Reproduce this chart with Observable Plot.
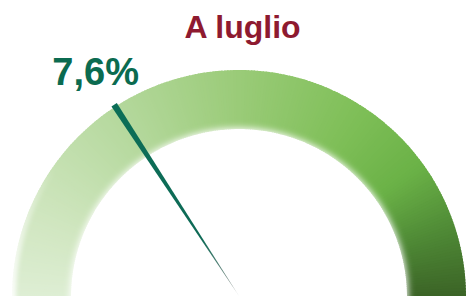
<!DOCTYPE html>
<html>
<head>
<meta charset="utf-8">
<script src="https://cdn.jsdelivr.net/npm/d3@7"></script>
<script src="https://cdn.jsdelivr.net/npm/@observablehq/plot@0.6"></script>
<style>
  html, body { margin: 0; padding: 0; background: #fff; overflow: hidden; }
  svg { font-family: "Liberation Sans", Arial, sans-serif; }
</style>
</head>
<body>
<div id="chart"></div>
<script>
// ---- data ----
const titles = ["A luglio"];
const values = [7.6];
const valueLabels = ["7,6%"];
const gaugeDomain = [0, 24];          // gauge range (min, max)
const bandRadii = [0.74, 1];          // inner / outer radius, in units of the outer radius

// ---- styles ----
const stopT = [0, 0.12, 0.32, 0.5, 0.68, 0.8, 0.9, 1];
const stopColors = ["#deeed4", "#d0e6c0", "#b4d89c", "#9acb78", "#7fbf58", "#6bb247", "#4f8a36", "#3b6326"];
const bandColor = d3.scaleLinear(stopT, stopColors).interpolate(d3.interpolateRgb);

const frac = d3.scaleLinear(gaugeDomain, [0, 1]).clamp(true);
const theta = v => Math.PI * (1 - frac(v));   // math angle: 0 = right, PI = left
const needleR = 1.01;

function gauge(index, scales) {
  const {x, y} = scales;
  const cx = x(0), cy = y(0), R = x(1) - x(0);
  const g = d3.create("svg:g");
  const defs = g.append("defs");
  defs.append("filter").attr("id", "soft")
    .attr("x", "-30%").attr("y", "-30%").attr("width", "160%").attr("height", "160%")
    .append("feGaussianBlur").attr("stdDeviation", 3.8);
  defs.append("filter").attr("id", "soft2")
    .attr("x", "-50%").attr("y", "-50%").attr("width", "200%").attr("height", "200%")
    .append("feGaussianBlur").attr("stdDeviation", 2);

  // band as many thin segments (angular gradient)
  const N = 240;
  const arc = d3.arc().innerRadius(bandRadii[0] * R).outerRadius(bandRadii[1] * R);
  const root = g.append("g").attr("transform", `translate(${cx},${cy})`);
  const band = root.append("g");
  for (let i = 0; i < N; i++) {
    const a0 = -Math.PI / 2 + i * Math.PI / N;
    const a1 = a0 + Math.PI / N + 0.006;
    band.append("path")
      .attr("d", arc({startAngle: a0, endAngle: Math.min(a1, Math.PI / 2)}))
      .attr("fill", bandColor((i + 0.5) / N));
  }
  // soft white fade at the lower-left outer edge
  const fade = root.append("g").attr("filter", "url(#soft2)");
  const M = 40, span = 0.7;
  const fadeArc = d3.arc().innerRadius(R - 4).outerRadius(R + 8);
  for (let i = 0; i < M; i++) {
    const a0 = -Math.PI / 2 - 0.1 + i * span / M;
    fade.append("path")
      .attr("d", fadeArc({startAngle: a0, endAngle: a0 + span / M + 0.01}))
      .attr("fill", "#fff").attr("fill-opacity", 0.85 * (1 - i / M));
  }
  // white glow along the inner edge
  root.append("circle").attr("r", bandRadii[0] * R + 1).attr("fill", "#fff").attr("filter", "url(#soft)");

  // needle
  const v = values[0];
  const t = theta(v);
  const ex = x(needleR * Math.cos(t)), ey = y(needleR * Math.sin(t));
  const px = -Math.sin(t), py = -Math.cos(t); // perpendicular in pixel space
  const w = 3.2;
  const grad = defs.append("linearGradient").attr("id", "needleGrad")
    .attr("gradientUnits", "userSpaceOnUse")
    .attr("x1", ex).attr("y1", ey).attr("x2", cx).attr("y2", cy);
  grad.append("stop").attr("offset", "0%").attr("stop-color", "#0b6e57");
  grad.append("stop").attr("offset", "70%").attr("stop-color", "#0e6a56");
  grad.append("stop").attr("offset", "93%").attr("stop-color", "#7f8f8a");
  grad.append("stop").attr("offset", "100%").attr("stop-color", "#c8cccb");
  g.append("path")
    .attr("d", `M${ex + px * w},${ey + py * w}L${ex - px * w},${ey - py * w}L${cx},${cy - 1}Z`)
    .attr("fill", "url(#needleGrad)");
  return g.node();
}

const chart = Plot.plot({
  width: 468,
  height: 296,
  margin: 0,
  x: {axis: null, domain: [-1, 1], range: [12, 466]},
  y: {axis: null, domain: [0, 1], range: [297, 70]},
  marks: [
    gauge,
    Plot.text(valueLabels, {
      x: (d, i) => needleR * Math.cos(theta(values[i])),
      y: (d, i) => needleR * Math.sin(theta(values[i])),
      text: d => d,
      dx: -19, dy: -32,
      fontSize: 38, fontWeight: "bold", fill: "#0b6b50"
    }),
    Plot.text(titles, {
      text: d => d,
      frameAnchor: "top", lineAnchor: "top",
      dx: 8, dy: 15,
      fontSize: 32, fontWeight: "bold", fill: "#8e1a30"
    })
  ]
});
document.getElementById("chart").appendChild(chart);
</script>
</body>
</html>
